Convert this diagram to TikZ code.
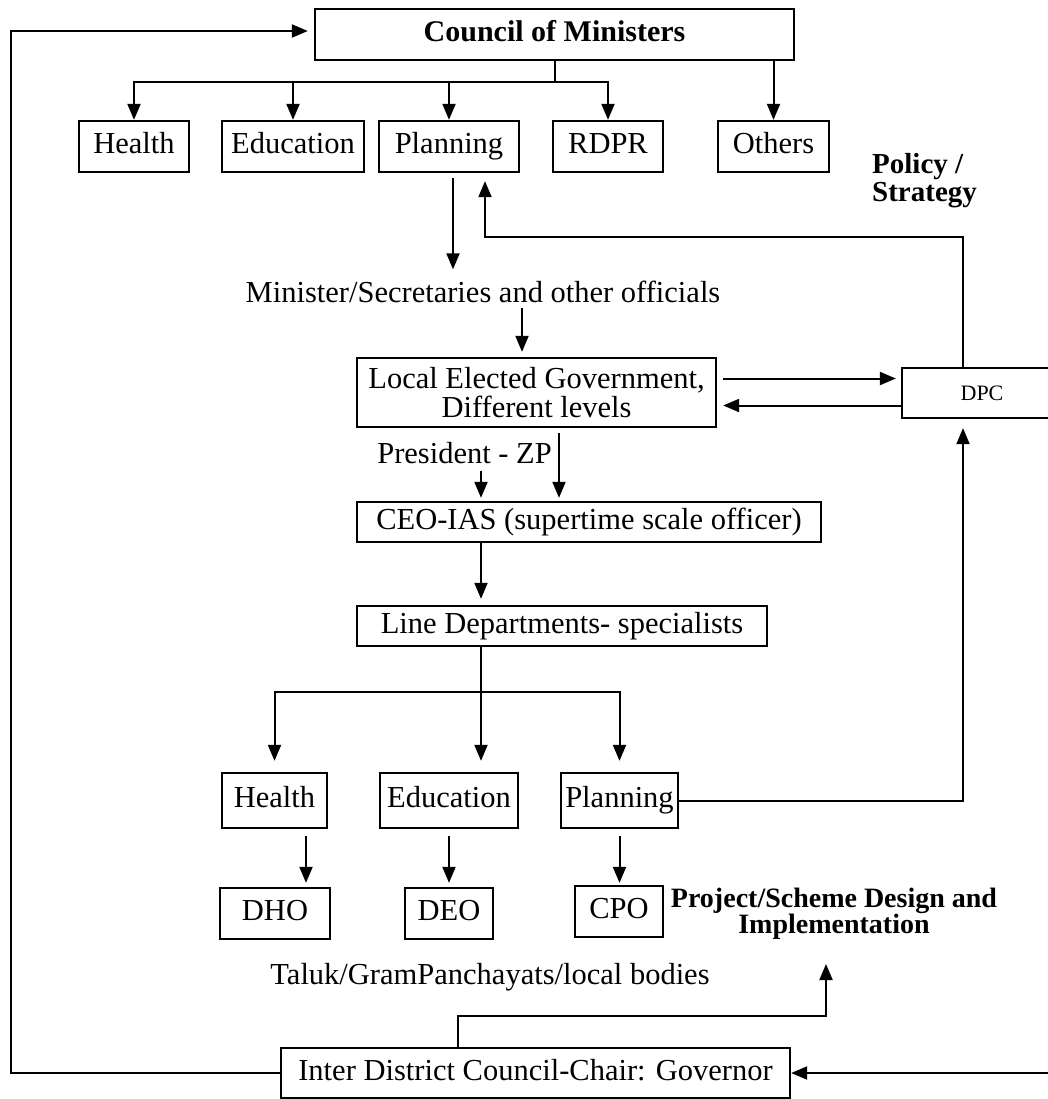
\documentclass[tikz,border=0pt]{standalone}
\usepackage{fontspec}
\setmainfont{Liberation Serif}
\usetikzlibrary{arrows.meta}
\tikzset{>={Triangle[length=16pt,width=13pt]}}
\tikzset{
    plain/.style={font=\fontsize{30.5}{29}\selectfont, inner sep=0pt},
    bold/.style={font=\fontsize{29}{28}\selectfont\bfseries, inner sep=0pt},
    box/.style={draw, line width=2.3pt, inner sep=0pt, minimum height=51pt, font=\fontsize{30.5}{29}\selectfont},
    cell/.style={box, text height=21pt, text depth=7pt},
    conn/.style={line width=2pt}
}

\begin{document}
\begin{tikzpicture}[x=1pt, y=-1pt]
    \useasboundingbox (0,0) rectangle (1047,1099);

    \node[cell, minimum width=479pt, font=\fontsize{30}{29}\selectfont\bfseries] (council) at (554.5,34.5) {Council of Ministers};
    \node[cell, minimum width=110pt] (health) at (134,146.5) {Health};
    \node[cell, minimum width=142pt] (educ) at (293,146.5) {Education};
    \node[cell, minimum width=140pt] (plan) at (449,146.5) {Planning};
    \node[cell, minimum width=110pt] (rdpr) at (608,146.5) {RDPR};
    \node[cell, minimum width=111pt] (others) at (773.5,146.5) {Others};
    \node[bold, align=left, anchor=west] (policy) at (872,181) {Policy /\\Strategy};

    \node[plain, anchor=base] (minister) at (483,302) {Minister/Secretaries and other officials};
    \node[box, minimum width=359pt, minimum height=69pt, align=center] (local) at (536.5,392.5) {Local Elected Government,\\Different levels};
    \node[cell, minimum width=160pt, minimum height=50pt, font=\fontsize{22}{24}\selectfont] (dpc) at (982,393) {DPC};
    \node[plain, anchor=base east] (president) at (552,463) {President - ZP};
    \node[cell, minimum width=464pt, minimum height=40pt] (ceo) at (589,522) {CEO-IAS (supertime scale officer)};
    \node[cell, minimum width=410pt, minimum height=40pt] (line) at (562,626) {Line Departments- specialists};

    \node[cell, minimum width=105pt, minimum height=55pt] (health2) at (274.5,800.5) {Health};
    \node[cell, minimum width=138pt, minimum height=55pt] (educ2) at (449,800.5) {Education};
    \node[cell, minimum width=117pt, minimum height=55pt] (plan2) at (619.5,800.5) {Planning};
    \node[cell, minimum width=110pt] (dho) at (275,913.5) {DHO};
    \node[cell, minimum width=88pt] (deo) at (449,913.5) {DEO};
    \node[cell, minimum width=88pt] (cpo) at (619,911.5) {CPO};
    \node[bold, font=\fontsize{28}{26}\selectfont\bfseries, align=center] (project) at (834,914) {Project/Scheme Design and\\Implementation};
    \node[plain, anchor=base] (taluk) at (490,984) {Taluk/GramPanchayats/local bodies};
    \node[cell, minimum width=509pt, minimum height=50pt] (inter) at (535.5,1073) {Inter District Council-Chair: Governor};

    \coordinate (split) at (554.5,82);
    \coordinate (pback) at (485,237);
    \coordinate (lsplit) at (481,692);
    \coordinate (iturn) at (826,1016);
    \coordinate (itip) at (826,964);
    \coordinate (lrail) at (11,31);
    \coordinate (rrail) at (1050,1073);

    \draw[conn] (council.south) -- (split);
    \foreach \n in {health,educ,plan,rdpr}
        \draw[conn,->] (split) -| (\n.north);
    \draw[conn,->] (council.south -| others.north) -- (others.north);

    \draw[conn,->,shorten <=5pt,shorten >=11pt] ([xshift=4pt]plan.south) -- ([xshift=4pt]plan.south |- minister.north);
    \draw[conn,->,shorten <=6pt,shorten >=5pt] ([xshift=-14.5pt]local.north |- minister.south) -- ([xshift=-14.5pt]local.north);
    \draw[conn,->,shorten <=6pt,shorten >=5pt] ([yshift=14pt]local.east) -- ([yshift=14pt]local.east -| dpc.west);
    \draw[conn,->,shorten >=6pt] ([yshift=-13pt]local.east -| dpc.west) -- ([yshift=-13pt]local.east);
    \draw[conn,->,shorten >=8pt] ([xshift=-19pt]dpc.north) |- (pback) -- (pback |- plan.south);

    \draw[conn,->,shorten <=5pt,shorten >=3pt] ([xshift=22.5pt]local.south) -- ([xshift=22.5pt]local.south |- ceo.north);
    \draw[conn,->,shorten <=7pt,shorten >=3pt] ([xshift=-108pt]ceo.north |- president.south) -- ([xshift=-108pt]ceo.north);
    \draw[conn,->,shorten >=6pt] ([xshift=-108pt]ceo.south) -- ([xshift=-108pt]ceo.south |- line.north);

    \draw[conn,->,shorten >=11pt] (line.south -| lsplit) -- (lsplit |- educ2.north);
    \draw[conn,->,shorten >=11pt] (lsplit) -| (health2.north);
    \draw[conn,->,shorten >=11pt] (lsplit) -| (plan2.north);

    \draw[conn,->,shorten <=7pt,shorten >=4pt] ([xshift=31.5pt]health2.south) -- ([xshift=31.5pt]health2.south |- dho.north);
    \draw[conn,->,shorten <=7pt,shorten >=4pt] (educ2.south) -- (deo.north);
    \draw[conn,->,shorten <=7pt,shorten >=2pt] (plan2.south) -- (plan2.south |- cpo.north);
    \draw[conn,->,shorten >=9pt] (plan2.east) -| ([xshift=-19pt]dpc.south);

    \draw[conn,->] ([xshift=-77.5pt]inter.north) |- (iturn) -- (itip);
    \draw[conn,->,shorten >=6pt] (inter.west) -| (lrail) -- (lrail -| council.west);
    \draw[conn,->] (rrail) -- (inter.east);
\end{tikzpicture}
\end{document}
